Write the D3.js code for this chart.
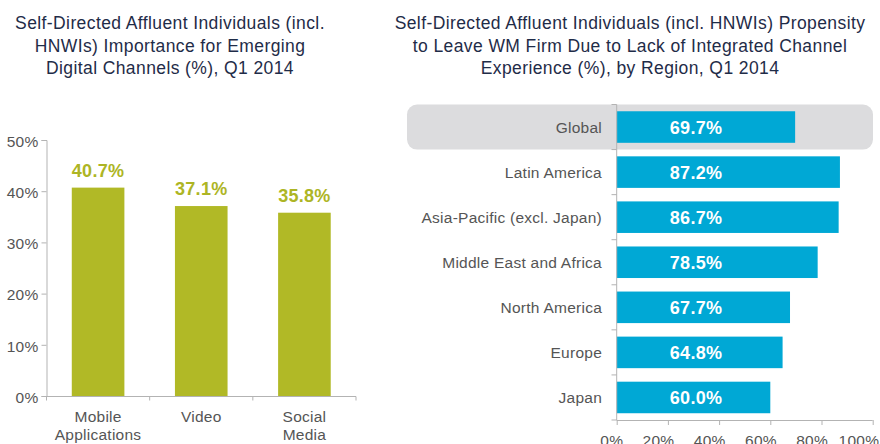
<!DOCTYPE html>
<html>
<head>
<meta charset="utf-8">
<script src="https://cdn.jsdelivr.net/npm/d3@7/dist/d3.min.js"></script>
<style>
  body { margin: 0; background: #fff; }
  svg { font-family: "Liberation Sans", Arial, Helvetica, sans-serif; display: block; }
  .title { fill: #1f2c48; font-size: 17.5px; letter-spacing: 0.4px; text-anchor: middle; }
  .axis path, .axis line { stroke: #b3b3b3; }
  .axis text { fill: #555; font-size: 15.5px; letter-spacing: 0.25px; font-family: "Liberation Sans", Arial, sans-serif; }
  .val { font-size: 18px; font-weight: bold; letter-spacing: 0.3px; }
</style>
</head>
<body>
<svg id="chart" width="880" height="444"></svg>
<script>
// left chart data
var channels = [["Mobile", "Applications"], ["Video"], ["Social", "Media"]];
var channelValues = [40.7, 37.1, 35.8];
var leftTicks = [0, 10, 20, 30, 40, 50];

// right chart data
var regions = ["Global", "Latin America", "Asia-Pacific (excl. Japan)", "Middle East and Africa", "North America", "Europe", "Japan"];
var regionValues = [69.7, 87.2, 86.7, 78.5, 67.7, 64.8, 60.0];
var rightTicks = [0, 20, 40, 60, 80, 100];

var leftTitle = ["Self-Directed Affluent Individuals (incl.", "HNWIs) Importance for Emerging", "Digital Channels (%), Q1 2014"];
var rightTitle = ["Self-Directed Affluent Individuals (incl. HNWIs) Propensity", "to Leave WM Firm Due to Lack of Integrated Channel", "Experience (%), by Region, Q1 2014"];

var svg = d3.select("#chart");

// titles
function drawTitle(lines, cx) {
    svg.append("text")
        .attr("class", "title")
        .selectAll("tspan")
        .data(lines)
        .enter()
        .append("tspan")
        .attr("x", cx)
        .attr("y", function(d, i) { return 29 + i * 22.5; })
        .text(function(d) { return d; });
}
drawTitle(leftTitle, 170);
drawTitle(rightTitle, 630);

// ---- left: vertical bars ----
var left = svg.append("g");
var xBand = d3.scaleBand()
    .domain(d3.range(channels.length))
    .range([46.5, 356])
    .paddingInner(0.49)
    .paddingOuter(0.245);
var yLeft = d3.scaleLinear().domain([0, 50]).range([396, 140]);

left.append("g")
    .attr("class", "axis")
    .attr("transform", "translate(46.5,0)")
    .call(d3.axisLeft(yLeft).tickValues(leftTicks).tickSize(5).tickPadding(3)
        .tickFormat(function(d) { return d + "%"; }))
    .call(function(g) { g.selectAll("text").attr("dy", "0.4em"); });

left.selectAll(".bar")
    .data(channelValues)
    .enter()
    .append("rect")
    .attr("class", "bar")
    .attr("x", function(d, i) { return xBand(i); })
    .attr("y", function(d) { return yLeft(d); })
    .attr("width", xBand.bandwidth())
    .attr("height", function(d) { return yLeft(0) - yLeft(d); })
    .attr("fill", "#b1b926");

left.selectAll(".val")
    .data(channelValues)
    .enter()
    .append("text")
    .attr("class", "val")
    .attr("x", function(d, i) { return xBand(i) + xBand.bandwidth() / 2; })
    .attr("y", function(d) { return yLeft(d) - 11; })
    .attr("text-anchor", "middle")
    .attr("fill", "#adb524")
    .text(function(d) { return d.toFixed(1) + "%"; });

// x axis with boundary ticks
var xAxisG = left.append("g").attr("class", "axis");
xAxisG.append("line")
    .attr("x1", 46.5).attr("x2", 356)
    .attr("y1", 396.5).attr("y2", 396.5);
var bounds = d3.range(channels.length + 1).map(function(i) { return 46.5 + i * xBand.step(); });
xAxisG.selectAll(".bt")
    .data(bounds)
    .enter()
    .append("line")
    .attr("x1", function(d) { return d; }).attr("x2", function(d) { return d; })
    .attr("y1", 396.5).attr("y2", 400.5);
xAxisG.selectAll(".cat")
    .data(channels)
    .enter()
    .append("text")
    .attr("text-anchor", "middle")
    .attr("x", function(d, i) { return xBand(i) + xBand.bandwidth() / 2; })
    .attr("y", 421.5)
    .selectAll("tspan")
    .data(function(d) { return d; })
    .enter()
    .append("tspan")
    .attr("x", function() { return d3.select(this.parentNode).attr("x"); })
    .attr("dy", function(d, i) { return i === 0 ? 0 : 18.5; })
    .text(function(d) { return d; });

// ---- right: horizontal bars ----
var right = svg.append("g");
var yBand = d3.scaleBand()
    .domain(regions)
    .range([104.5, 420])
    .paddingInner(0.3)
    .paddingOuter(0.15);
var xRight = d3.scaleLinear().domain([0, 100]).range([616.7, 872.7]);

// highlight for Global
right.append("rect")
    .attr("x", 407)
    .attr("y", yBand.range()[0])
    .attr("width", 873 - 407)
    .attr("height", yBand.step())
    .attr("rx", 10)
    .attr("fill", "#dcdcde");

right.selectAll(".hbar")
    .data(regionValues)
    .enter()
    .append("rect")
    .attr("class", "hbar")
    .attr("x", xRight(0))
    .attr("y", function(d, i) { return yBand(regions[i]); })
    .attr("width", function(d) { return xRight(d) - xRight(0); })
    .attr("height", yBand.bandwidth())
    .attr("fill", "#00a8d5");

right.selectAll(".hval")
    .data(regionValues)
    .enter()
    .append("text")
    .attr("class", "val")
    .attr("x", xRight(31))
    .attr("y", function(d, i) { return yBand(regions[i]) + yBand.bandwidth() / 2; })
    .attr("dy", "0.36em")
    .attr("text-anchor", "middle")
    .attr("fill", "#fff")
    .text(function(d) { return d.toFixed(1) + "%"; });

// y axis: category labels, ticks on band boundaries
var yAxisG = right.append("g").attr("class", "axis");
yAxisG.append("line")
    .attr("x1", 616.7).attr("x2", 616.7)
    .attr("y1", 104.5).attr("y2", 420);
var ybounds = d3.range(regions.length + 1).map(function(i) { return 104.5 + i * yBand.step(); });
yAxisG.selectAll(".bt")
    .data(ybounds)
    .enter()
    .append("line")
    .attr("x1", 611.5).attr("x2", 616.7)
    .attr("y1", function(d) { return d; }).attr("y2", function(d) { return d; });
yAxisG.selectAll(".cat")
    .data(regions)
    .enter()
    .append("text")
    .attr("text-anchor", "end")
    .attr("x", 602)
    .attr("y", function(d) { return yBand(d) + yBand.bandwidth() / 2; })
    .attr("dy", "0.36em")
    .text(function(d) { return d; });

right.append("g")
    .attr("class", "axis")
    .attr("transform", "translate(0,420)")
    .call(d3.axisBottom(xRight).tickValues(rightTicks).tickSize(5).tickPadding(10)
        .tickFormat(function(d) { return d + "%"; }))
    .call(function(g) {
        g.select(".domain").remove();
        g.selectAll("text").attr("text-anchor", "end").attr("dx", 6);
    })
    .append("line")
    .attr("x1", 616.7).attr("x2", 872.7)
    .attr("y1", 0.5).attr("y2", 0.5);
</script>
</body>
</html>
